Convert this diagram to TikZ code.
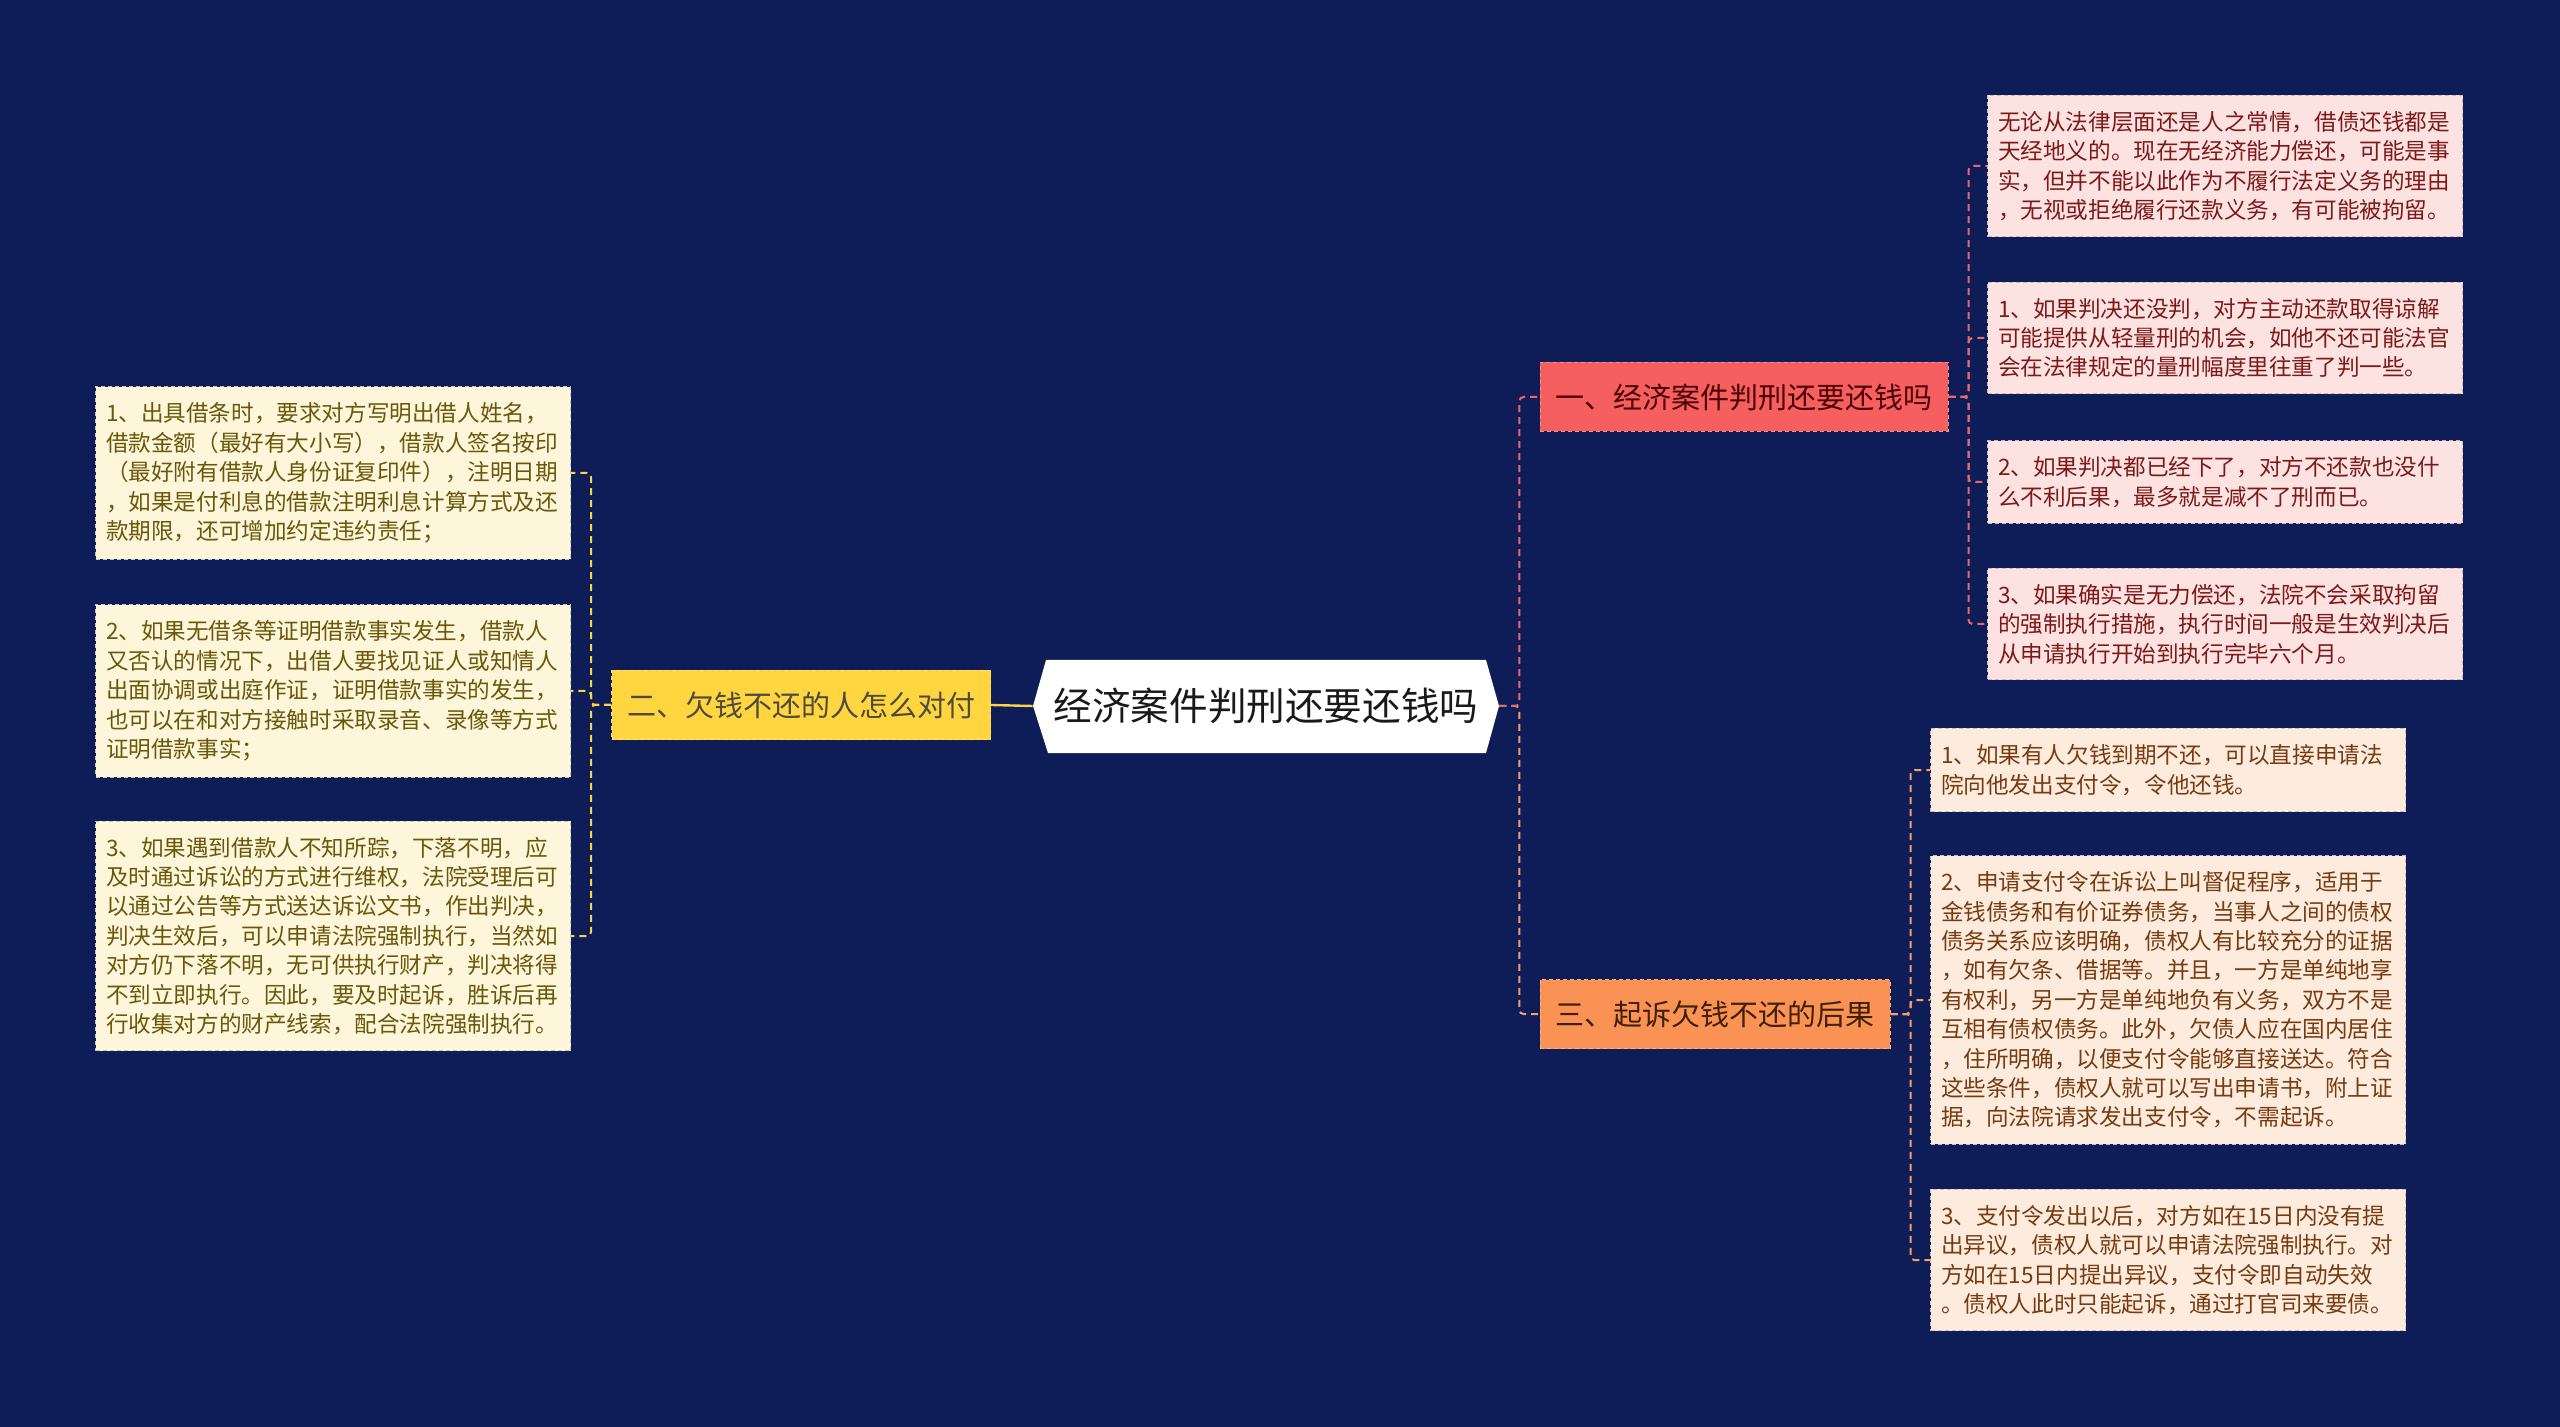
\documentclass[tikz,border=0pt]{standalone}
\usepackage{fontspec}
\newfontfamily\cjk{Noto Sans CJK SC}
\definecolor{navybg}{RGB}{14,28,87}
\definecolor{pinkfill}{RGB}{253,226,226}
\definecolor{pinktext}{RGB}{125,25,25}
\definecolor{peachfill}{RGB}{253,236,222}
\definecolor{peachtext}{RGB}{120,58,15}
\definecolor{creamfill}{RGB}{253,246,218}
\definecolor{creamtext}{RGB}{105,88,10}
\definecolor{redbranch}{RGB}{245,95,95}
\definecolor{yellowbranch}{RGB}{255,214,64}
\definecolor{orangebranch}{RGB}{250,146,85}
\definecolor{redlink}{RGB}{232,104,110}
\definecolor{orangelink}{RGB}{244,160,100}
\definecolor{yellowlink}{RGB}{250,212,70}
\begin{document}
\begin{tikzpicture}[x=0.5pt,y=-0.5pt,every node/.style={font=\cjk},
  leaf/.style={draw,dash pattern=on 2pt off 1.5pt,line width=0.5pt,align=left,text width=227pt,inner xsep=5.25pt,inner ysep=8pt,font=\cjk\fontsize{11.3pt}{14.7pt}\selectfont},
  branch/.style={draw,dash pattern=on 2pt off 1.5pt,line width=0.5pt,minimum height=34.5pt,inner xsep=7.75pt,inner ysep=0pt,font=\cjk\fontsize{14.5pt}{17pt}\selectfont},
  link/.style={line width=1pt,dash pattern=on 3.5pt off 2.5pt,rounded corners=2pt}]
\fill[navybg] (0,0) rectangle (2560,1427);
\fill[white] (1033,706) -- (1046,660) -- (1486,660) -- (1499,706) -- (1486,753) -- (1048,753) -- cycle;
\node[minimum width=233pt,minimum height=46.5pt,inner sep=0pt,text=black!90,font=\cjk\fontsize{19.3pt}{22pt}\selectfont] (root) at (1266,706) {经济案件判刑还要还钱吗};
\node[branch,fill=redbranch,draw=redbranch!70!white,text=black!70!red] (one) at (1744,397) {一、经济案件判刑还要还钱吗};
\node[branch,fill=yellowbranch,draw=yellowbranch!70!white,text=black!80!yellow] (two) at (801,705) {二、欠钱不还的人怎么对付};
\node[branch,fill=orangebranch,draw=orangebranch!70!white,text=black!75!orange] (three) at (1715,1014) {三、起诉欠钱不还的后果};
\node[leaf,fill=pinkfill,draw=pinkfill!60!gray,text=pinktext] (onea) at (2225,166) {无论从法律层面还是人之常情，借债还钱都是\\天经地义的。现在无经济能力偿还，可能是事\\实，但并不能以此作为不履行法定义务的理由\\，无视或拒绝履行还款义务，有可能被拘留。};
\node[leaf,fill=pinkfill,draw=pinkfill!60!gray,text=pinktext] (oneb) at (2225,338) {1、如果判决还没判，对方主动还款取得谅解\\可能提供从轻量刑的机会，如他不还可能法官\\会在法律规定的量刑幅度里往重了判一些。};
\node[leaf,fill=pinkfill,draw=pinkfill!60!gray,text=pinktext] (onec) at (2225,482) {2、如果判决都已经下了，对方不还款也没什\\么不利后果，最多就是减不了刑而已。};
\node[leaf,fill=pinkfill,draw=pinkfill!60!gray,text=pinktext] (oned) at (2225,624) {3、如果确实是无力偿还，法院不会采取拘留\\的强制执行措施，执行时间一般是生效判决后\\从申请执行开始到执行完毕六个月。};
\node[leaf,fill=peachfill,draw=peachfill!60!gray,text=peachtext] (threea) at (2168,770) {1、如果有人欠钱到期不还，可以直接申请法\\院向他发出支付令，令他还钱。};
\node[leaf,fill=peachfill,draw=peachfill!60!gray,text=peachtext] (threeb) at (2168,1000) {2、申请支付令在诉讼上叫督促程序，适用于\\金钱债务和有价证券债务，当事人之间的债权\\债务关系应该明确，债权人有比较充分的证据\\，如有欠条、借据等。并且，一方是单纯地享\\有权利，另一方是单纯地负有义务，双方不是\\互相有债权债务。此外，欠债人应在国内居住\\，住所明确，以便支付令能够直接送达。符合\\这些条件，债权人就可以写出申请书，附上证\\据，向法院请求发出支付令，不需起诉。};
\node[leaf,fill=peachfill,draw=peachfill!60!gray,text=peachtext] (threec) at (2168,1260) {3、支付令发出以后，对方如在15日内没有提\\出异议，债权人就可以申请法院强制执行。对\\方如在15日内提出异议，支付令即自动失效\\。债权人此时只能起诉，通过打官司来要债。};
\node[leaf,fill=creamfill,draw=creamfill!60!gray,text=creamtext] (twoa) at (333,473) {1、出具借条时，要求对方写明出借人姓名，\\借款金额（最好有大小写），借款人签名按印\\（最好附有借款人身份证复印件），注明日期\\，如果是付利息的借款注明利息计算方式及还\\款期限，还可增加约定违约责任；};
\node[leaf,fill=creamfill,draw=creamfill!60!gray,text=creamtext] (twob) at (333,691) {2、如果无借条等证明借款事实发生，借款人\\又否认的情况下，出借人要找见证人或知情人\\出面协调或出庭作证，证明借款事实的发生，\\也可以在和对方接触时采取录音、录像等方式\\证明借款事实；};
\node[leaf,fill=creamfill,draw=creamfill!60!gray,text=creamtext] (twoc) at (333,936) {3、如果遇到借款人不知所踪，下落不明，应\\及时通过诉讼的方式进行维权，法院受理后可\\以通过公告等方式送达诉讼文书，作出判决，\\判决生效后，可以申请法院强制执行，当然如\\对方仍下落不明，无可供执行财产，判决将得\\不到立即执行。因此，要及时起诉，胜诉后再\\行收集对方的财产线索，配合法院强制执行。};
\draw[link,orangelink] (root.east) -- ++(20,0) |- (three.west);
\draw[link,redlink] (root.east) -- ++(20,0) |- (one.west);
\draw[line width=1.2pt,yellowlink] (root.west) -- (two.east);
\foreach \leafname in {onea,oneb,onec,oned}
  \draw[link,redlink] (one.east) -- ++(20,0) |- (\leafname.west);
\foreach \leafname in {threea,threeb,threec}
  \draw[link,orangelink] (three.east) -- ++(20,0) |- (\leafname.west);
\foreach \leafname in {twoa,twob,twoc}
  \draw[link,yellowlink] (two.west) -- ++(-20,0) |- (\leafname.east);
\end{tikzpicture}
\end{document}
